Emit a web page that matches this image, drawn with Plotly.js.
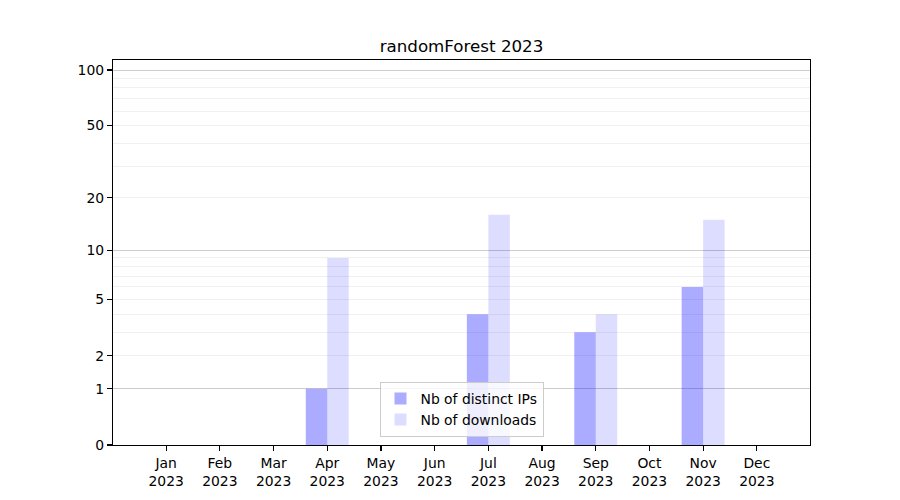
<!DOCTYPE html>
<html>
<head>
<meta charset="utf-8">
<script src="https://cdn.plot.ly/plotly-3.0.1.min.js"></script>
<style>html,body{margin:0;padding:0;background:#fff}#chart{width:900px;height:500px}</style>
</head>
<body>
<div id="chart"></div>
<script>
const months = ["Jan<br>2023","Feb<br>2023","Mar<br>2023","Apr<br>2023","May<br>2023","Jun<br>2023","Jul<br>2023","Aug<br>2023","Sep<br>2023","Oct<br>2023","Nov<br>2023","Dec<br>2023"];
const distinctIPs = [0,0,0,1,0,0,4,0,3,0,6,0];
const downloads   = [0,0,0,9,0,0,16,0,4,0,15,0];
const yTickLabels = [0,1,2,5,10,20,50,100];
const yMajorGrid  = [1,10,100];
const yMinorGrid  = [2,3,4,5,6,7,8,9,20,30,40,50,60,70,80,90];

// symlog-like scale: position = log10(1 + value)
const shift = v => v + 1;
const font = {family: "DejaVu Sans", size: 13.9, color: "#000"};
const yRange = [0, 2.058];

const traces = [
  {type: "bar", name: "Nb of distinct IPs", x: months, y: distinctIPs.map(shift),
   marker: {color: "rgba(0,0,255,0.33)", line: {width: 0}}},
  {type: "bar", name: "Nb of downloads", x: months, y: downloads.map(shift),
   marker: {color: "rgba(0,0,255,0.135)", line: {width: 0}}},
  {type: "scatter", mode: "markers", x: months, y: months.map(() => 1), yaxis: "y2",
   marker: {opacity: 0}, showlegend: false, hoverinfo: "skip"}
];

const layout = {
  width: 900, height: 500,
  margin: {l: 113, r: 90, t: 60, b: 55, pad: 0},
  paper_bgcolor: "#fff", plot_bgcolor: "rgba(0,0,0,0)",
  font: font,
  title: {text: "randomForest 2023", font: {family: "DejaVu Sans", size: 16.7, color: "#000"},
          x: 0.5, xanchor: "center", xref: "paper", y: 1 - 46/500, yanchor: "middle", yref: "container"},
  barmode: "group", bargap: 0.2, bargroupgap: 0,
  xaxis: {type: "category", range: [-0.99, 11.99], showline: true, mirror: true, linecolor: "#000", linewidth: 1.1,
          ticks: "outside", ticklen: 5, tickwidth: 1.1, tickcolor: "#000", showgrid: false, zeroline: false,
          tickfont: font, fixedrange: true},
  yaxis: {type: "log", range: yRange, showline: true, mirror: true, linecolor: "#000", linewidth: 1.1,
          tickvals: yTickLabels.map(shift), ticktext: yTickLabels.map(String),
          ticks: "outside", ticklen: 5, tickwidth: 1.1, tickcolor: "#000", showgrid: false, zeroline: false,
          tickfont: font,
          minor: {tickvals: yMinorGrid.map(shift), showgrid: true, gridcolor: "#ececec", gridwidth: 0.8, ticks: ""}},
  yaxis2: {type: "log", range: yRange, overlaying: "y", side: "left", tickvals: yMajorGrid.map(shift),
           showticklabels: false, ticks: "", showline: false, zeroline: false,
           showgrid: true, gridcolor: "#cccccc", gridwidth: 1},
  legend: {x: 0.5, xanchor: "center", xref: "paper", y: 0.021, yanchor: "bottom",
           bgcolor: "rgba(255,255,255,0.8)", bordercolor: "#cccccc", borderwidth: 1,
           font: font, tracegroupgap: 0},
  showlegend: true
};

Plotly.newPlot("chart", traces, layout, {displayModeBar: false, staticPlot: true});
</script>
</body>
</html>
